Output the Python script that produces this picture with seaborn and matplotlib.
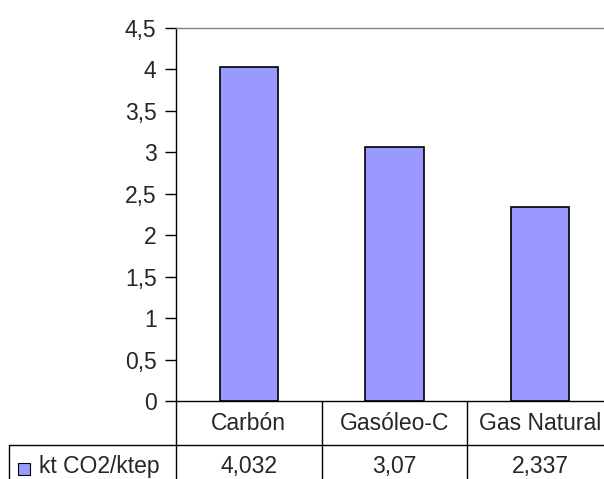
import matplotlib
matplotlib.use("Agg")
import matplotlib.pyplot as plt
import matplotlib.ticker as mticker
from matplotlib.lines import Line2D
from matplotlib.patches import Rectangle
import pandas as pd
import seaborn as sns

# data
combustibles = ["Carbón", "Gasóleo-C", "Gas Natural"]
emisiones = [4.032, 3.07, 2.337]
serie = "kt CO2/ktep"
yticks = [0, 0.5, 1, 1.5, 2, 2.5, 3, 3.5, 4, 4.5]

df = pd.DataFrame({"combustible": combustibles, "valor": emisiones})

sns.set_style("white")
plt.rcParams["font.family"] = ["Liberation Sans", "DejaVu Sans"]
FS = 16.5

W, H = 604, 479
fig = plt.figure(figsize=(W / 100, H / 100), dpi=100)


def fx(x):
    return x / W


def fy(y):
    return 1 - y / H


# plot area in pixels (right edge runs past the picture, like the original)
left, right, top, bottom = 176, 613, 28, 401
ax = fig.add_axes([fx(left), fy(bottom), fx(right - left), (bottom - top) / H])

bar_color = "#9999FF"
sns.barplot(data=df, x="combustible", y="valor", color=bar_color,
            width=0.4, edgecolor="black", linewidth=1.2, saturation=1, ax=ax)

ax.set_xlim(-0.5, 2.5)
ax.set_ylim(0, 4.5)
ax.set_yticks(yticks)
ax.yaxis.set_major_formatter(mticker.FuncFormatter(lambda v, p: f"{v:g}".replace(".", ",")))
ax.tick_params(axis="y", direction="out", length=8, width=1, color="black",
               labelsize=FS, pad=6, left=True)
ax.set_xticks([])
ax.set_xlabel("")
ax.set_ylabel("")
ax.set_facecolor("white")
for s in ["left", "bottom"]:
    ax.spines[s].set_color("black")
    ax.spines[s].set_linewidth(1)
ax.spines["top"].set_color("#808080")
ax.spines["top"].set_linewidth(1)
ax.spines["right"].set_visible(False)

# data table below the chart
row1_mid, row_line, row2_mid = 423, 445, 467
lc = "black"
fig.add_artist(Line2D([fx(9), fx(W)], [fy(row_line), fy(row_line)], color=lc, lw=1))
fig.add_artist(Line2D([fx(9), fx(9)], [fy(row_line), 0], color=lc, lw=1))
fig.add_artist(Line2D([fx(left), fx(left)], [fy(bottom), 0], color=lc, lw=1))

cat_w = (right - left) / len(combustibles)
for i, (name, v) in enumerate(zip(combustibles, emisiones)):
    cx = left + cat_w * (i + 0.5)
    if i > 0:
        bx = left + cat_w * i
        fig.add_artist(Line2D([fx(bx), fx(bx)], [fy(bottom), 0], color=lc, lw=1))
    fig.text(fx(cx), fy(row1_mid), name, ha="center", va="center", fontsize=FS)
    fig.text(fx(cx), fy(row2_mid), f"{v:g}".replace(".", ","), ha="center",
             va="center", fontsize=FS)

fig.add_artist(Rectangle((fx(18), fy(475)), fx(12), 12 / H, facecolor=bar_color,
                         edgecolor="black", lw=0.8))
fig.text(fx(39), fy(row2_mid), serie, ha="left", va="center", fontsize=FS)

fig.savefig("out.png", dpi=100)
